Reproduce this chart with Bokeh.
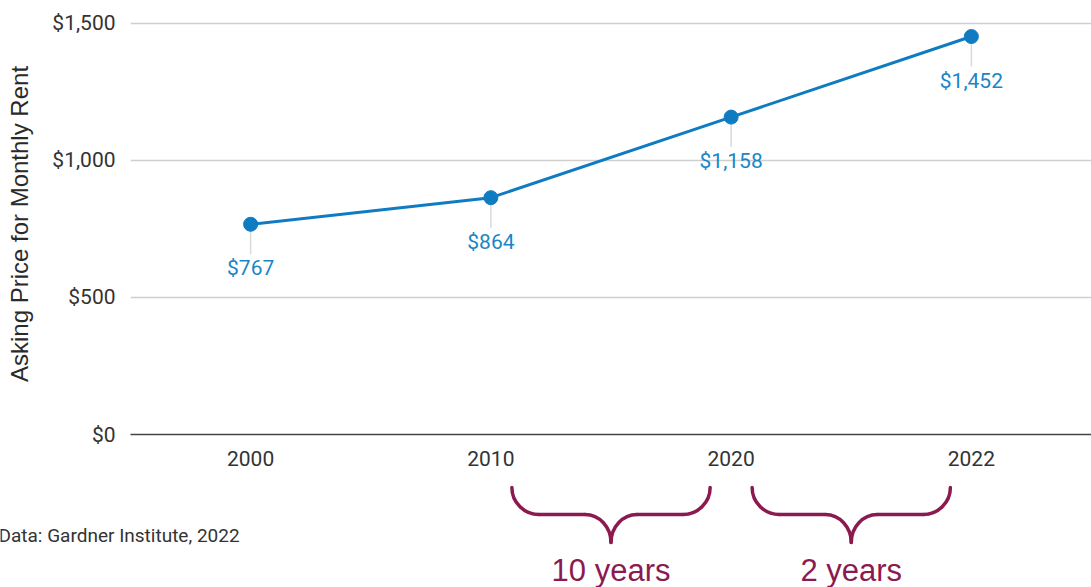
from bokeh.plotting import figure
from bokeh.layouts import column, row
from bokeh.models import (FactorRange, Range1d, FixedTicker, NumeralTickFormatter,
                          ColumnDataSource)
from bokeh.core.properties import value
from bokeh.embed import file_html
from bokeh.resources import INLINE

# ---- data ----
years = ["2000", "2010", "2020", "2022"]
rents = [767, 864, 1158, 1452]
rent_labels = ["$767", "$864", "$1,158", "$1,452"]
y_ticks = [0, 500, 1000, 1500]
spans = [("2010", "2020"), ("2020", "2022")]
span_labels = ["10 years", "2 years"]
source_note = "Data: Gardner Institute, 2022"

BLUE = "#0f7cc1"
LABEL_BLUE = "#1a86c6"
MAROON = "#8c1a50"
W = 1091
TOP_H = 470
BOT_H = 117
NOTE_W = 250
FRAME_LEFT = 130
FRAME_TOP = 13
FRAME_BOTTOM = 36
Y_MAX = 1536

p = figure(width=W, height=TOP_H, x_range=FactorRange(factors=years),
           y_range=Range1d(0, Y_MAX), output_backend="svg", toolbar_location=None,
           min_border_left=FRAME_LEFT, min_border_right=0,
           min_border_top=FRAME_TOP, min_border_bottom=FRAME_BOTTOM)
p.outline_line_color = None
p.background_fill_color = "white"
p.border_fill_color = "white"

p.xgrid.grid_line_color = None
p.ygrid.ticker = FixedTicker(ticks=y_ticks)
p.ygrid.grid_line_color = "#cfcfcf"
p.ygrid.grid_line_width = 1.5

p.yaxis.ticker = FixedTicker(ticks=y_ticks)
p.yaxis.formatter = NumeralTickFormatter(format="$0,0")
p.yaxis.axis_line_color = None
p.yaxis.major_tick_line_color = None
p.yaxis.minor_tick_line_color = None
p.yaxis.major_label_text_font = "Roboto"
p.yaxis.major_label_text_font_size = "21px"
p.yaxis.major_label_text_color = "#333333"
p.yaxis.major_label_standoff = 9
p.yaxis.axis_label = "Asking Price for Monthly Rent"
p.yaxis.axis_label_text_font = "Liberation Sans"
p.yaxis.axis_label_text_font_style = "normal"
p.yaxis.axis_label_text_font_size = "24px"
p.yaxis.axis_label_text_color = "#2a2a2a"
p.yaxis.axis_label_standoff = 16

p.xaxis.axis_line_color = "#444444"
p.xaxis.axis_line_width = 1.5
p.xaxis.major_tick_line_color = None
p.xaxis.minor_tick_line_color = None
p.xaxis.major_label_text_font = "Roboto"
p.xaxis.major_label_text_font_size = "21px"
p.xaxis.major_label_text_color = "#333333"
p.xaxis.major_label_standoff = 10

# pixel scale of the frame, to express label offsets in data units
px_per_unit = (TOP_H - FRAME_TOP - FRAME_BOTTOM) / Y_MAX
label_gap = 44 / px_per_unit
leader_len = 30 / px_per_unit

src = ColumnDataSource(dict(
    year=years, rent=rents, label=rent_labels,
    lab_y=[r - label_gap for r in rents],
    lead_y=[r - leader_len for r in rents],
))

p.segment(x0="year", y0="rent", x1="year", y1="lead_y", source=src,
          line_color="#d9d9d9", line_width=1.5)
p.line(x="year", y="rent", source=src, line_color=BLUE, line_width=3)
p.scatter(x="year", y="rent", source=src, size=14, fill_color=BLUE,
          line_color=BLUE)
p.text(x="year", y="lab_y", text="label", source=src, text_align="center",
       text_baseline="middle", text_font=value("Roboto"),
       text_font_size="21px", text_color=LABEL_BLUE)

# ---- source note strip (bottom left) ----
n = figure(width=NOTE_W, height=BOT_H, x_range=Range1d(0, NOTE_W),
           y_range=Range1d(BOT_H, 0), output_backend="svg", toolbar_location=None,
           min_border=0)
n.axis.visible = False
n.grid.visible = False
n.outline_line_color = None
n.text(x=[0], y=[65], text=[source_note], x_offset=-2,
       text_align="left", text_baseline="middle",
       text_font=value("Roboto"), text_font_size="19px", text_color="#333333")

# ---- bottom annotation strip (braces), same x scale as the chart ----
unit_px = (W - FRAME_LEFT) / len(years)
q = figure(width=W - NOTE_W, height=BOT_H,
           x_range=Range1d((NOTE_W - FRAME_LEFT) / unit_px, len(years)),
           y_range=Range1d(BOT_H, 0), output_backend="svg", toolbar_location=None,
           min_border=0)
q.axis.visible = False
q.grid.visible = False
q.outline_line_color = None

idx = {y: i + 0.5 for i, y in enumerate(years)}
inset = 21 / unit_px
r1 = 27 / unit_px
r2 = 26 / unit_px
y_top, y_mid, y_tip = 17, 44, 72
k = 0.55

bz = dict(x0=[], y0=[], x1=[], y1=[], cx0=[], cy0=[], cx1=[], cy1=[])
seg = dict(x0=[], y0=[], x1=[], y1=[])
txt = dict(x=[], y=[], t=[])


def add_bz(x0, y0, cx0, cy0, cx1, cy1, x1, y1):
    for key, v in zip(["x0", "y0", "cx0", "cy0", "cx1", "cy1", "x1", "y1"],
                      [x0, y0, cx0, cy0, cx1, cy1, x1, y1]):
        bz[key].append(v)


for (ya, yb), lab in zip(spans, span_labels):
    a = idx[ya] + inset
    b = idx[yb] - inset
    m = (a + b) / 2
    hy = y_mid - y_top
    ty = y_tip - y_mid
    add_bz(a, y_top, a, y_top + k * hy, a + r1 - k * r1, y_mid, a + r1, y_mid)
    add_bz(b, y_top, b, y_top + k * hy, b - r1 + k * r1, y_mid, b - r1, y_mid)
    add_bz(m - r2, y_mid, m - r2 + k * r2, y_mid, m, y_tip - k * ty, m, y_tip)
    add_bz(m + r2, y_mid, m + r2 - k * r2, y_mid, m, y_tip - k * ty, m, y_tip)
    seg["x0"] += [a + r1, m + r2]
    seg["x1"] += [m - r2, b - r1]
    seg["y0"] += [y_mid, y_mid]
    seg["y1"] += [y_mid, y_mid]
    txt["x"].append(m)
    txt["y"].append(100)
    txt["t"].append(lab)

q.bezier(source=ColumnDataSource(bz), x0="x0", y0="y0", x1="x1", y1="y1",
         cx0="cx0", cy0="cy0", cx1="cx1", cy1="cy1",
         line_color=MAROON, line_width=3.5, line_cap="round")
q.segment(source=ColumnDataSource(seg), x0="x0", y0="y0", x1="x1", y1="y1",
          line_color=MAROON, line_width=3.5, line_cap="round")
q.text(source=ColumnDataSource(txt), x="x", y="y", text="t",
       text_align="center", text_baseline="middle",
       text_font=value("Liberation Sans"), text_font_size="31px",
       text_color=MAROON)

layout = column(p, row(n, q, spacing=0), spacing=0)
open("out.html", "w").write(file_html(layout, INLINE))
